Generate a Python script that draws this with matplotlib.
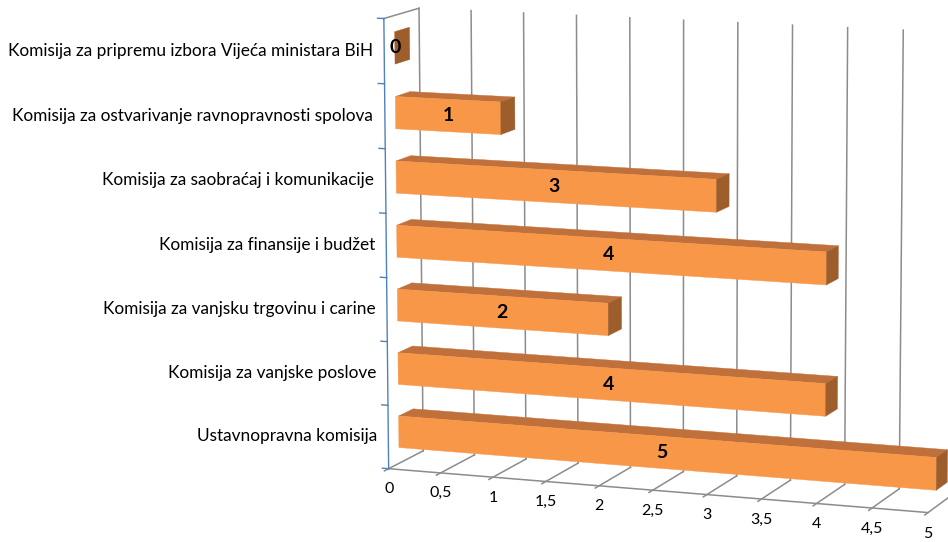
import numpy as np
import matplotlib
matplotlib.use("Agg")
import matplotlib.pyplot as plt
from mpl_toolkits.mplot3d import proj3d
from mpl_toolkits.mplot3d.art3d import Poly3DCollection

# ---------------- data ----------------
categories = [
    "Ustavnopravna komisija",
    "Komisija za vanjske poslove",
    "Komisija za vanjsku trgovinu i carine",
    "Komisija za finansije i budžet",
    "Komisija za saobraćaj i komunikacije",
    "Komisija za ostvarivanje ravnopravnosti spolova",
    "Komisija za pripremu izbora Vijeća ministara BiH",
]
values = [5, 4, 2, 4, 3, 1, 0]
tick_values = [0, 0.5, 1, 1.5, 2, 2.5, 3, 3.5, 4, 4.5, 5]
tick_labels = ["0", "0,5", "1", "1,5", "2", "2,5", "3", "3,5", "4", "4,5", "5"]

# ---------------- style ----------------
FONT = "Lato"
GRID = "#8C8C8C"
AXBLUE = "#4F81BD"
C_FRONT = "#F89748"
C_TOP = "#C0703A"
C_SIDE = "#9E5E2C"

W_PX, H_PX = 948, 542
fig = plt.figure(figsize=(W_PX / 100, H_PX / 100), dpi=100)
ax = fig.add_axes([0.1, 0.1, 0.8, 0.8], projection="3d", computed_zorder=False)
ax.view_init(elev=10, azim=-70)
ax.set_proj_type("persp", focal_length=1.2)
xmax = tick_values[-1]
ncat = len(categories)
ax.set_xlim(0, xmax)
ax.set_ylim(0, 1)
ax.set_zlim(0, ncat)
ax.set_box_aspect((1, 0.157, 0.805))
ax.set_axis_off()

# back wall vertical gridlines + floor lines
for t in tick_values:
    ax.plot([t, t], [1, 1], [0, ncat], color=GRID, lw=1.1, zorder=1)
    ax.plot([t, t], [-0.12, 1], [0, 0], color=GRID, lw=1.1, zorder=1)
# floor front edge
ax.plot([0, xmax], [0, 0], [0, 0], color=GRID, lw=1.1, zorder=1)
# left wall top edge
ax.plot([0, 0], [0, 1], [ncat, ncat], color=GRID, lw=1.1, zorder=1)
# vertical category axis (blue) with ticks
ax.plot([0, 0], [0, 0], [0, ncat], color=AXBLUE, lw=1.0, zorder=2)
for k in range(ncat + 1):
    ax.plot([0, -0.06], [0, 0], [k, k], color=AXBLUE, lw=1.0, zorder=2)

# bars
y0, y1 = 0.30, 0.72
polys, cols = [], []
for i, v in enumerate(values):
    z0, z1 = i + 0.25, i + 0.75
    if v > 0:
        polys.append([(0, y0, z0), (v, y0, z0), (v, y0, z1), (0, y0, z1)])
        cols.append(C_FRONT)
        polys.append([(0, y0, z1), (v, y0, z1), (v, y1, z1), (0, y1, z1)])
        cols.append(C_TOP)
    polys.append([(v, y0, z0), (v, y1, z0), (v, y1, z1), (v, y0, z1)])
    cols.append(C_SIDE)
pc = Poly3DCollection(polys, facecolors=cols, edgecolors=cols, linewidths=0.3, zorder=3)
ax.add_collection3d(pc)

# ---------------- fit the frame into the target area ----------------
frame_pts = [(0, 0, 0), (xmax, 0, 0), (0, 0, ncat), (0, 1, ncat), (0, 1, 0), (4.5, 1, ncat)]
frame_tgt_px = [(391, 470), (928, 512), (387, 17), (418, 7), (420, 452), (902, 31)]
tgt = np.array([(x, H_PX - y) for x, y in frame_tgt_px], dtype=float)


def proj2d(x, y, z):
    xs, ys, _ = proj3d.proj_transform(x, y, z, ax.get_proj())
    return xs, ys


def project_pts():
    fig.canvas.draw()
    return np.array([ax.transData.transform(proj2d(*p)) for p in frame_pts])


for _ in range(3):
    d = project_pts()
    dm, tm = d.mean(axis=0), tgt.mean(axis=0)
    r = np.sum((d - dm) * (tgt - tm)) / np.sum((d - dm) ** 2)
    pos = ax.get_position()
    acx = (pos.x0 + pos.width / 2) * W_PX
    acy = (pos.y0 + pos.height / 2) * H_PX
    side = pos.width * W_PX
    ncx = tm[0] + r * (acx - dm[0])
    ncy = tm[1] + r * (acy - dm[1])
    nside = side * r
    ax.set_position([(ncx - nside / 2) / W_PX, (ncy - nside / 2) / H_PX,
                     nside / W_PX, nside / H_PX])
fig.canvas.draw()


# ---------------- texts (anchored at projected 3D points) ----------------
def label(x, y, z, s, **kw):
    xs, ys = proj2d(x, y, z)
    ax.text2D(xs, ys, s, transform=ax.transData, family=FONT, color="black",
              zorder=5, **kw)


for i, v in enumerate(values):
    label(v / 2, y0, i + 0.5, str(v), ha="center", va="center",
          fontsize=14, fontweight="bold")

for i, c in enumerate(categories):
    label(-0.11, 0, i + 0.5, c, ha="right", va="center", fontsize=12.4)

for t, lab in zip(tick_values, tick_labels):
    label(t, 0, -0.32, lab, ha="center", va="center", fontsize=11.5)

fig.savefig("out.png", dpi=100)
